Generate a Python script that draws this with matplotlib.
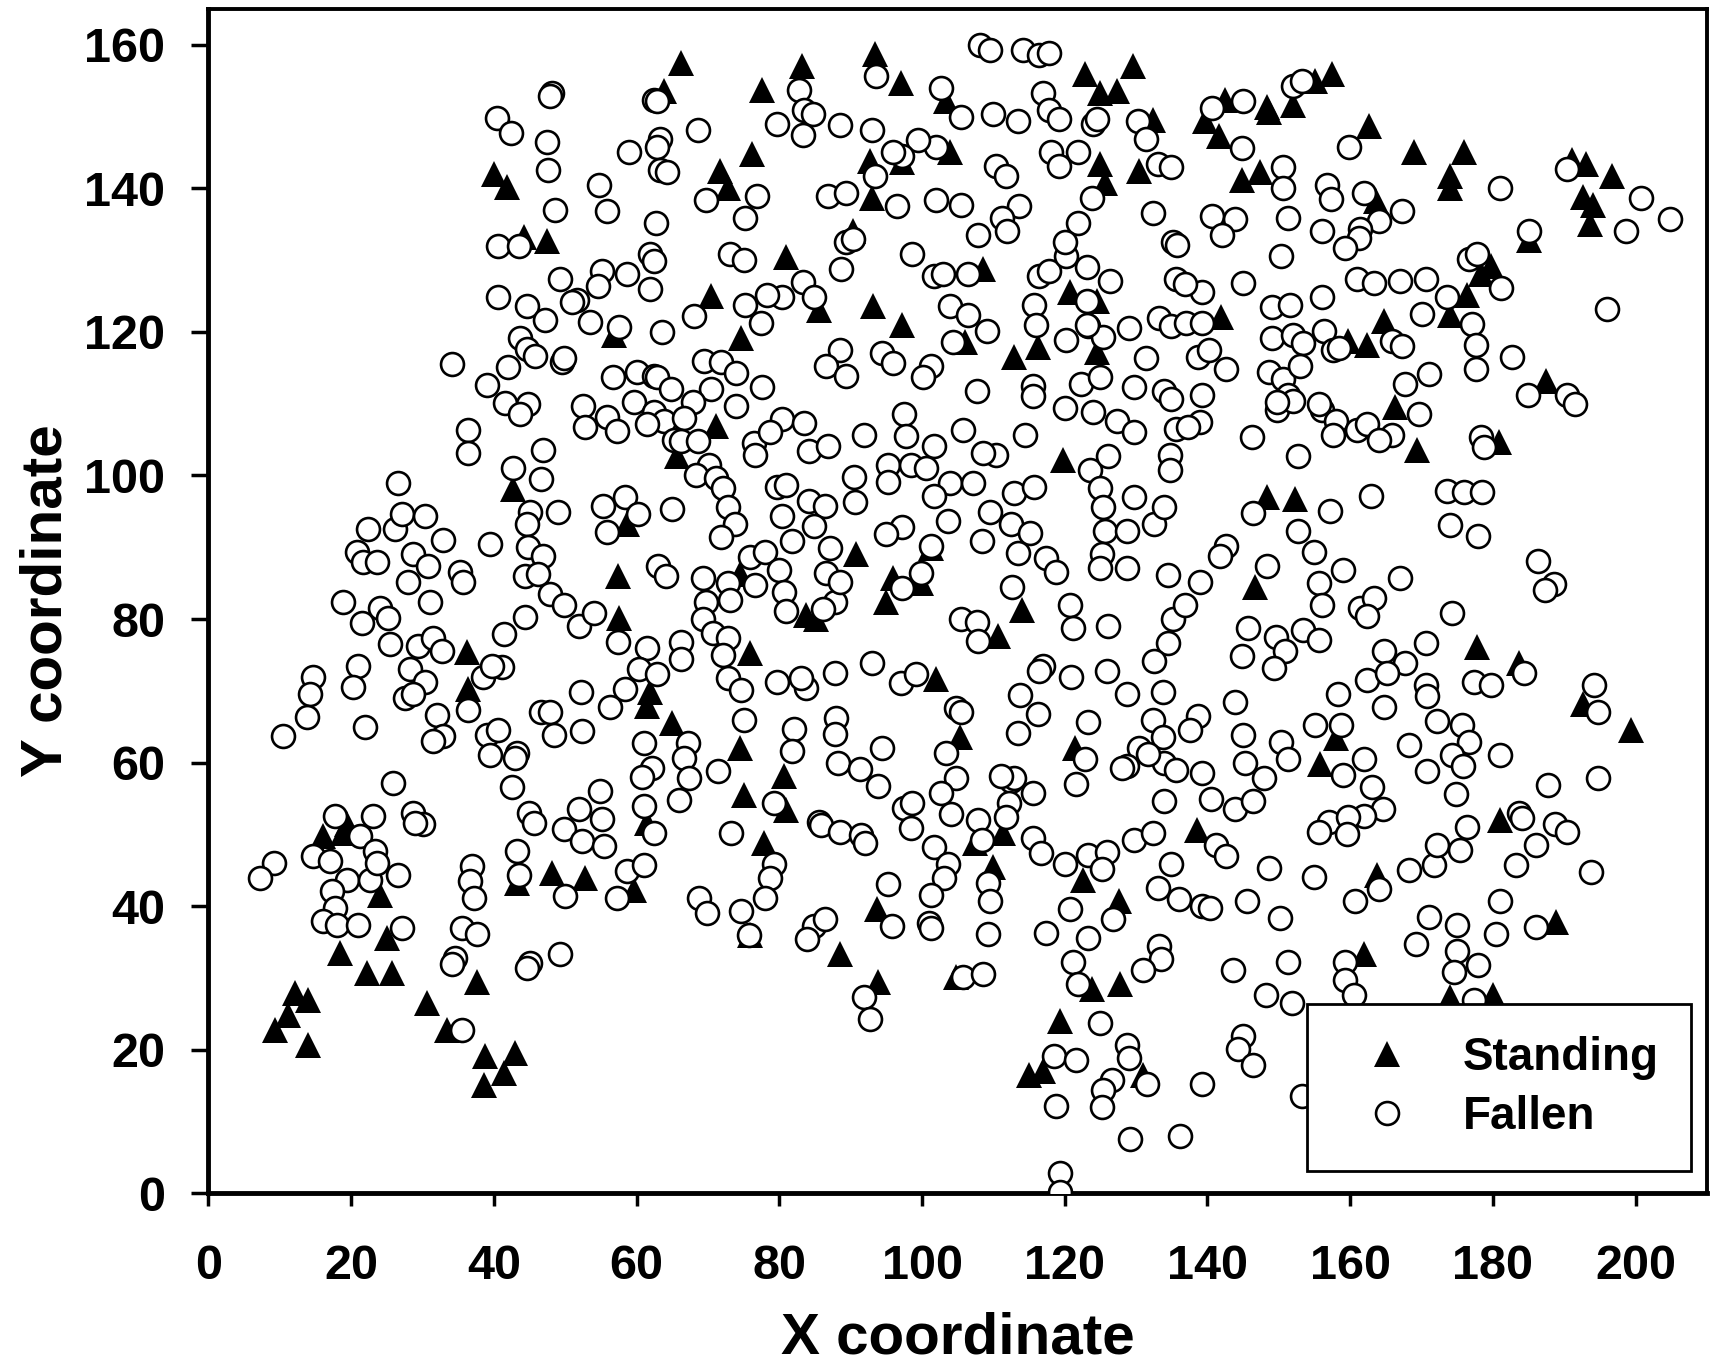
import matplotlib
matplotlib.use("Agg")
import matplotlib.pyplot as plt
from matplotlib.lines import Line2D

plt.rcParams['font.family'] = ['Liberation Sans', 'DejaVu Sans']
plt.rcParams['font.weight'] = 'bold'

# standing trees (x, y)
standing = [
    (40, 142), (41.9, 140.2), (44.2, 133.2), (47.4, 132.6),
    (66.2, 157.5), (63.8, 153.5), (83.2, 157), (77.6, 153.7), (93.4, 158.7), (97, 154.7),
    (103.4, 152.1), (122.8, 155.9), (125, 153.3), (127.3, 153.5), (129.5, 157), (132.3, 149.5),
    (125, 143.4), (125.6, 140.8), (130.4, 142.4), (103.9, 145), (97.2, 143.6), (92.7, 143.8),
    (93, 138.7), (90.3, 134), (108.6, 128.8), (106, 118.6), (93.2, 123.6), (97.2, 121),
    (80.9, 130.4), (85.6, 123.1), (70.5, 125), (74.7, 119.1), (76.2, 144.8), (71.7, 142.4),
    (72.8, 140.1), (112.9, 116.5), (116.2, 117.9), (120.7, 125.5), (124.5, 124.3), (124.5, 117.2),
    (142.4, 152.3), (139.7, 149.4), (148.4, 151.3), (148.6, 150.6), (152, 151.6), (155.1, 154.9),
    (157.5, 155.9), (141.6, 147.3), (144.8, 141.2), (147.4, 142.2), (162.6, 148.7), (163.6, 138.2),
    (168.9, 145.1), (175.9, 145.1), (174, 141.7), (174, 140), (185.1, 132.8), (191.1, 143.9),
    (193.1, 143.4), (196.7, 141.7), (192.6, 138.8), (194, 137.6), (193.6, 135), (178.4, 128),
    (179.8, 129.2), (176.4, 125.2), (174, 122.3), (141.9, 122), (159.7, 118.7), (162.4, 118.2),
    (164.8, 121.5), (187.5, 113.2), (166.3, 109.5), (56.9, 119.5),
    (65.7, 102.7), (71.2, 106.9), (42.7, 98.1), (58.6, 93.2), (57.4, 86), (57.6, 80.2),
    (36.3, 75.4), (36.4, 70.2), (61.9, 69.8), (61.4, 67.9), (65, 65.5), (74.5, 86.3),
    (90.8, 89), (101.3, 89.9), (96, 85.7), (95, 82.4), (99.8, 85), (83.7, 80.5), (85.1, 80),
    (119.7, 102.2), (75.9, 75.3), (74.5, 62.1), (80.6, 58.1), (75, 55.5), (80.9, 53.4),
    (102, 71.6), (105.3, 63.6), (110.7, 77.7), (114, 81.2), (121.4, 62.1), (148.4, 97),
    (152.3, 96.7), (146.7, 84.5), (169.4, 103.5), (180.8, 104.7), (177.8, 76.1), (183.6, 73.9),
    (192.6, 68.2), (199.3, 64.6), (158, 63.4), (155.8, 59.8),
    (19.4, 51.4), (16.1, 49.8), (18.9, 50.2), (24.1, 41.5), (25, 35.6), (18.4, 33.5),
    (22.2, 30.7), (25.7, 30.7), (12.1, 27.9), (14, 27), (11.2, 24.9), (9.3, 22.8), (14, 20.7),
    (30.6, 26.5), (33.4, 22.8), (38.8, 19.1), (43, 19.6), (41.4, 16.8), (38.6, 15.1),
    (37.6, 29.5), (43.2, 43.3), (48.1, 44.7), (52.8, 44), (59.6, 42.3), (61.5, 51.6),
    (77.8, 48.8), (75.9, 36), (111.4, 50.2), (107.4, 48.8), (93.7, 39.6), (88.5, 33.4),
    (93.9, 29.4), (110, 45.4), (104.8, 30.1), (122.6, 43.6), (127.6, 40.7), (123.8, 28.5),
    (127.8, 29.2), (119.3, 24), (115, 16.5), (117, 17), (131, 16.5), (138.5, 50.6),
    (163.8, 44.3), (161.9, 33.4), (174, 27.3), (180, 27.7), (188.9, 37.8), (181, 52),
]

# fallen trees (x, y)
fallen = [
    # upper left
    (48.2, 153.2), (47.9, 152.8), (40.5, 149.8), (42.4, 147.7), (47.4, 146.5), (47.6, 142.6),
    (58.9, 145), (54.7, 140.4), (55.8, 136.9), (48.5, 137), (62.4, 152.3), (63.3, 146.9),
    (62.9, 145.8), (63.3, 142.5), (62.7, 135.1), (40.6, 132), (43.5, 132), (49.3, 127.4),
    (51.7, 124.4), (50.9, 124.2), (55.1, 128.5), (58.7, 128.1), (54.6, 126.4), (61.9, 130.9),
    (62.4, 129.8), (61.9, 126), (40.6, 124.9), (44.7, 123.6), (47.1, 121.6), (53.5, 121.4),
    (43.6, 119.2), (44.7, 117.6), (45.8, 116.7), (49.6, 115.8), (49.8, 116.3), (34.2, 115.5),
    (42, 115.1), (39.1, 112.6), (57.6, 120.7), (56.7, 113.7), (60.1, 114.4), (62.4, 113.9),
    (59.6, 110.2), (41.6, 110.1), (44.8, 110), (52.5, 109.7), (55.9, 108.1), (62.4, 108.9),
    # upper middle
    (108.1, 159.9), (109.5, 159.3), (114.1, 159.2), (116.4, 158.6), (117.8, 158.9), (62.9, 152.1),
    (82.8, 153.7), (83.5, 150.9), (84.7, 150.4), (83.3, 147.4), (79.7, 149), (88.5, 148.8),
    (93, 148.1), (93.6, 155.6), (102.7, 154), (105.4, 149.9), (110, 150.4), (113.4, 149.3),
    (116.9, 153.3), (117.8, 150.9), (119.2, 149.7), (124, 149), (124.5, 149.7), (130.2, 149.3),
    (131.4, 146.9), (123.8, 138.7), (133, 143.4), (132.3, 136.5), (118.1, 145), (119.2, 143.1),
    (121.9, 145), (110.3, 143.1), (111.7, 141.7), (113.6, 137.5), (111.2, 135.8), (111.9, 134),
    (107.9, 133.5), (102, 138.4), (105.5, 137.7), (102, 145.7), (99.4, 146.7), (97.2, 144.5),
    (96, 145), (93.4, 141.7), (86.8, 138.9), (89.4, 139.4), (96.5, 137.5), (98.6, 130.9),
    (89.4, 132.5), (90.3, 133), (88.7, 128.8), (101.7, 127.8), (102.9, 128.1), (106.5, 128.1),
    (103.9, 123.6), (106.5, 122.4), (109.1, 120.1), (104.3, 118.6), (83.3, 126.9), (84.9, 124.8),
    (80.4, 124.8), (78.3, 125.2), (75.2, 123.8), (77.4, 121.2), (68.1, 122.2), (69.5, 116),
    (71.9, 115.8), (74, 114.2), (70.5, 112), (67.9, 110.2), (63.6, 120), (62.9, 113.7),
    (64.8, 112), (77.6, 112.3), (74, 109.7), (88.5, 117.5), (86.6, 115.3), (89.4, 113.9),
    (94.4, 117), (96, 115.6), (101.2, 115.3), (100.1, 113.7), (107.7, 111.8), (115.5, 112.5),
    (115.5, 111), (120, 109.4), (115.7, 123.8), (116, 121), (120.2, 118.9), (123.3, 120.8),
    (125.4, 119.3), (129, 120.5), (123.1, 124.3), (123.1, 121), (116.4, 127.8), (117.8, 128.5),
    (126.4, 127.1), (120.2, 130.6), (121.9, 135.1), (120, 132.5), (123.1, 129), (133.2, 121.9),
    (131.4, 116.3), (129.7, 112.3), (133.9, 111.8), (135.1, 132.5), (135.6, 127.4), (122.3, 112.8),
    (125, 113.7), (124, 108.9), (127.3, 107.6), (97.5, 108.5), (80.4, 107.8), (83.5, 107.3),
    (63.8, 107.6), (66.7, 108), (68.6, 148.1), (69.7, 138.4), (76.9, 138.9), (75.2, 135.8),
    (73.1, 130.9), (75, 130), (64.3, 142.2),
    # upper right
    (140.7, 151.2), (145, 152.1), (152, 154.2), (153.2, 154.9), (144.8, 145.6), (150.6, 142.9),
    (150.6, 140), (151.3, 135.9), (156.8, 140.4), (157.3, 138.5), (161.9, 139.3), (167.2, 136.9),
    (164.1, 135.5), (159.9, 145.8), (181, 140.1), (185.1, 134.1), (190.4, 142.7), (200.8, 138.6),
    (198.6, 134), (204.8, 135.7), (140.7, 136.2), (143.8, 135.7), (142, 133.5), (135.8, 132.1),
    (150.3, 130.6), (156.1, 134), (161.4, 134.3), (161.2, 133.1), (159.3, 131.7), (145, 126.8),
    (139.2, 125.6), (136.8, 126.6), (161, 127.3), (163.4, 126.8), (167, 127.1), (170.6, 127.3),
    (173.5, 124.9), (176.7, 130.2), (177.7, 130.9), (181.2, 126.1), (170.1, 122.5), (177.1, 121.1),
    (177.6, 118.2), (177.6, 114.8), (182.7, 116.5), (196, 123.2), (184.9, 111.2), (190.4, 111.2),
    (191.5, 110), (134.9, 142.9), (134.9, 120.8), (137, 121.3), (139.2, 121.3), (138.7, 116.5),
    (140.2, 117.5), (142.6, 114.8), (139.2, 111.2), (139, 107.4), (149.1, 123.5), (151.5, 123.7),
    (156.1, 124.9), (149.1, 119.2), (152, 119.6), (153.4, 118.4), (156.3, 120.1), (157.6, 117.5),
    (158.5, 117.7), (165.8, 118.7), (167.2, 118), (148.6, 114.4), (150.6, 113.4), (153, 115.3),
    (151.3, 111.2), (149.8, 109.1), (152, 110.3), (156.1, 109.1), (158, 107.6), (161, 106.4),
    (167.7, 112.7), (171.1, 114.1), (169.6, 108.6), (165.8, 105.7), (134.9, 110.7), (135.6, 106.5),
    # middle left
    (36.4, 106.3), (36.4, 103.1), (26.6, 98.9), (42.7, 101), (46.9, 103.5), (46.6, 99.5),
    (45.1, 94.9), (44.7, 93.2), (49, 94.9), (44.8, 90), (46.9, 88.8), (44.4, 86), (46.2, 86.3),
    (47.9, 83.5), (49.9, 81.9), (51.9, 79.1), (54.1, 80.9), (55.3, 95.7), (58.4, 97), (60.2, 94.6),
    (55.9, 92.1), (63, 87.4), (64.1, 86), (57.4, 76.8), (61.5, 76), (60.4, 73), (62.8, 72.4),
    (58.4, 70.2), (56.3, 67.7), (61, 62.8), (62.2, 59.3), (60.8, 58), (65.2, 105), (65, 95.3),
    (66.2, 76.8), (66.2, 74.4), (22.4, 92.5), (26.2, 92.5), (27.1, 94.6), (30.4, 94.4), (32.9, 91),
    (20.8, 89.4), (21.7, 87.9), (23.6, 87.9), (28.7, 89), (30.8, 87.4), (28, 85.1), (35.3, 86.5),
    (35.7, 85.1), (39.5, 90.4), (18.9, 82.4), (21.5, 79.4), (24.1, 81.6), (25.2, 80.2), (25.4, 76.5),
    (31.1, 82.4), (29.4, 76.3), (31.5, 77.4), (32.8, 75.5), (28.3, 73), (30.4, 71.3), (27.5, 69),
    (28.7, 69.5), (32.1, 66.7), (32.9, 63.7), (31.5, 63), (36.4, 67.4), (38.5, 72), (41.2, 73.3),
    (39.8, 73.4), (41.4, 77.9), (44.4, 80.3), (14.6, 71.9), (14.3, 69.5), (13.8, 66.3), (10.4, 63.7),
    (21, 73.4), (20.3, 70.6), (22, 64.9), (46.6, 67), (47.9, 67), (48.4, 63.9), (52.4, 64.4),
    (52.2, 69.9), (39.1, 63.9), (40.6, 64.6), (39.5, 61), (43.3, 61.4), (43, 60.7), (42.6, 56.6),
    (54.9, 56), (25.8, 57.2), (43.7, 108.6), (52.8, 106.7), (57.3, 106.2), (61.5, 107.2),
    # middle
    (66.2, 104.8), (68.6, 104.8), (70.2, 101.5), (68.3, 100), (71.2, 99.6), (72.1, 98.2),
    (72.8, 95.6), (73.8, 93.2), (71.9, 91.4), (69.3, 85.7), (72.8, 85), (73.1, 82.6), (69.7, 82.4),
    (69.3, 80), (70.7, 78.1), (72.8, 77.4), (72.1, 75), (72.8, 71.8), (74.7, 70.1), (75.9, 88.7),
    (78, 89.4), (76.6, 84.7), (79.9, 86.9), (80.6, 83.8), (76.4, 104.5), (78.7, 106), (84.2, 103.4),
    (86.8, 104.1), (76.6, 102.9), (91.8, 105.7), (79.7, 98.4), (80.9, 98.7), (84.2, 96.5),
    (86.4, 95.8), (80.4, 94.4), (81.8, 90.9), (84.9, 93), (87.1, 89.9), (90.4, 99.8), (90.6, 96.3),
    (86.6, 86.4), (87.8, 82.4), (88.5, 85.2), (80.9, 81.1), (86.1, 81.4), (97.7, 105.5),
    (101.7, 104.1), (105.8, 106.4), (114.5, 105.7), (110.3, 102.9), (108.6, 103.1), (95.3, 101.5),
    (95.3, 99.1), (98.4, 101.5), (100.5, 101), (103.9, 98.9), (101.7, 97.2), (107.2, 98.9),
    (103.6, 93.7), (112.9, 97.5), (115.7, 98.4), (109.5, 94.9), (112.4, 93.2), (115.2, 92),
    (108.4, 90.9), (113.4, 89.2), (117.4, 88.5), (118.8, 86.6), (97.2, 92.8), (95, 91.8),
    (101.2, 90.2), (99.8, 86.4), (112.6, 84.5), (97.2, 84.3), (123.5, 100.8), (126.1, 102.7),
    (124.9, 98.2), (125.4, 95.6), (125.7, 92.3), (125.2, 89), (124.9, 87.1), (128.7, 87.1),
    (129.7, 97), (128.7, 92.3), (132.5, 93.2), (133.9, 95.6), (134.7, 102.9), (134.7, 100.8),
    (129.7, 106), (120.7, 81.9), (121.2, 78.8), (126.1, 79.1), (134.4, 86.2), (135.1, 80),
    (134.4, 76.7), (132.5, 74.1), (133.7, 69.9), (132.3, 65.9), (133.7, 63.6), (130.4, 62.1),
    (128.7, 59.5), (133.9, 60), (133.9, 54.6), (125.9, 72.7), (120.9, 72), (128.7, 69.5),
    (116.9, 73.4), (116.4, 72.7), (113.8, 69.4), (116.2, 66.8), (113.4, 64.2), (122.8, 60.5),
    (121.6, 57), (123.3, 65.7), (112.4, 57.4), (115.5, 55.8), (112.2, 54.4), (112.9, 57.9),
    (111, 58.1), (104.8, 67.6), (105.5, 67.1), (103.4, 61.4), (104.8, 57.9), (102.7, 55.8),
    (104.1, 52.9), (107.9, 52), (111.7, 52.5), (105.5, 80), (107.7, 79.6), (107.9, 77), (97, 71.1),
    (99.1, 72.3), (93, 73.9), (87.8, 72.5), (83.7, 70.4), (83, 71.8), (79.7, 71.3), (75, 65.9),
    (82.1, 64.7), (81.8, 61.6), (88, 66.2), (87.8, 64), (67.2, 62.8), (66.7, 60.7), (67.4, 57.9),
    (66, 54.8), (71.4, 58.8), (94.4, 62.1), (88.2, 60), (91.3, 59.1), (93.9, 56.7), (97.5, 53.7),
    (98.6, 54.4), (79.2, 54.4), (85.6, 51.8), (128, 59.3), (131.7, 61.2),
    # middle right
    (137.3, 106.8), (146.2, 105.4), (149.8, 110.2), (155.6, 109.9), (162.4, 107.1), (157.6, 105.6),
    (164.1, 104.9), (178.3, 105.4), (178.8, 103.9), (152.7, 102.7), (146.4, 94.8), (157.2, 95),
    (162.9, 97.2), (173.5, 97.9), (175.9, 97.7), (178.5, 97.7), (174, 93.1), (177.9, 91.6),
    (152.7, 92.2), (154.9, 89.3), (159, 86.9), (155.6, 85), (156.1, 81.9), (167, 85.7),
    (142.6, 90.2), (141.8, 88.8), (148.4, 87.4), (139, 85.2), (136.8, 81.9), (161.4, 81.6),
    (163.4, 83), (162.4, 80.4), (174.2, 80.9), (186.3, 88.1), (188.5, 84.9), (187.3, 84),
    (145.7, 78.7), (144.8, 74.9), (149.6, 77.5), (150.8, 75.6), (153.4, 78.5), (155.6, 77.1),
    (149.3, 73.2), (164.8, 75.6), (167.7, 73.9), (170.6, 76.6), (162.4, 71.5), (165.1, 72.5),
    (164.8, 67.7), (158.3, 69.6), (170.6, 70.8), (170.8, 69.3), (177.3, 71.3), (179.7, 70.8),
    (184.4, 72.5), (194.2, 70.8), (194.7, 67), (143.8, 68.4), (138.7, 66.5), (137.5, 64.6),
    (145, 63.8), (150.3, 62.9), (151.3, 60.5), (145.2, 60), (147.9, 57.8), (139.2, 58.6),
    (135.6, 59), (140.5, 55), (143.8, 53.5), (146.4, 54.7), (155.1, 65.3), (158.7, 65.3),
    (161.9, 60.5), (159, 58.3), (163.1, 56.6), (164.6, 53.5), (161.9, 52.6), (157.1, 51.8),
    (168.3, 62.4), (172.2, 65.8), (175.6, 65.3), (176.6, 62.9), (174.2, 61), (175.8, 59.5),
    (170.7, 58.8), (174.8, 55.7), (181, 61), (187.7, 56.9), (194.7, 57.8), (183.6, 53), (184.1, 52.3),
    # lower left
    (9.2, 46), (7.2, 44), (17.8, 52.6), (23.1, 52.6), (28.7, 53), (30.1, 51.4), (29, 51.6),
    (21.3, 49.8), (23.4, 47.7), (14.7, 47), (17.1, 46.3), (19.4, 43.7), (22.7, 43.7), (26.6, 44.4),
    (17.3, 42.1), (17.7, 39.8), (16.1, 37.9), (18, 37.4), (21, 37.4), (23.6, 46), (27.1, 37),
    (35.5, 22.8), (36.9, 45.6), (36.7, 43.5), (37.2, 41.2), (35.5, 37), (37.6, 36.1), (34.6, 32.8),
    (34.1, 31.9), (43.2, 47.7), (43.5, 44.4), (44.9, 53), (45.6, 51.6), (50, 41.4), (49.8, 50.7),
    (51.9, 53.5), (52.4, 49.1), (55.2, 52.1), (55.4, 48.4), (61, 54), (62.4, 50.2), (58.7, 44.9),
    (61, 45.8), (57.3, 41.2), (45.1, 32.1), (44.6, 31.4), (49.3, 33.3),
    # lower middle
    (79.2, 45.9), (78.7, 44), (78, 41.2), (74.7, 39.3), (75.7, 36), (68.8, 41.2), (69.9, 39.1),
    (73.3, 50.2), (85.9, 51.3), (88.5, 50.3), (91.5, 49.9), (92, 48.8), (98.4, 50.9), (108.4, 49.2),
    (101.7, 48.3), (103.6, 45.9), (103.1, 44), (101.2, 41.5), (101, 37.7), (101.2, 37), (95.3, 43.1),
    (95.8, 37.2), (84.9, 37.2), (86.4, 38.2), (83.9, 35.5), (91.8, 27.3), (92.7, 24.3), (109.3, 43.3),
    (109.5, 40.7), (109.3, 36.2), (105.8, 30.1), (108.6, 30.6), (115.5, 49.5), (116.7, 47.4),
    (120, 45.9), (123.3, 47.1), (125.9, 47.5), (125.2, 45.2), (129.7, 49.2), (132.3, 50.2),
    (120.7, 39.6), (117.4, 36.3), (123.3, 35.6), (126.8, 38.2), (121.2, 32.3), (121.9, 29.2),
    (125, 23.7), (118.5, 19.1), (121.6, 18.6), (128.7, 20.7), (129, 18.8), (126.6, 15.8),
    (125.4, 14.4), (131.5, 15.3), (125.2, 12), (118.8, 12.2), (129.2, 7.6), (136.1, 8), (119.3, 2.8),
    (119.3, 0.2), (133.2, 34.4), (133.5, 32.7), (130.9, 31.1), (133, 42.6), (134.9, 45.9),
    # lower right
    (141.2, 48.6), (142.6, 47), (136, 41), (139.2, 40), (140.4, 39.7), (148.6, 45.3), (154.9, 44.1),
    (145.5, 40.8), (150.1, 38.4), (159.7, 52.5), (155.6, 50.3), (159.5, 50.1), (164.1, 42.4),
    (160.7, 40.8), (168.2, 45), (171.8, 45.8), (172.1, 48.6), (175.4, 47.9), (176.4, 51),
    (186.1, 48.6), (188.7, 51.5), (190.4, 50.3), (183.2, 45.8), (193.8, 44.8), (181, 40.7),
    (180.5, 36.1), (186.1, 37.1), (171.1, 38.5), (169.2, 34.7), (175, 37.4), (175, 33.8),
    (177.9, 31.8), (174.5, 30.9), (177.3, 27), (159.3, 32.3), (159.3, 29.7), (160.5, 27.7),
    (143.6, 31.1), (151.3, 32.3), (148.2, 27.7), (151.8, 26.5), (145, 22), (144.3, 20.1),
    (146.4, 17.9), (139.2, 15.3), (153.2, 13.6),
]

x_ticks = [0, 20, 40, 60, 80, 100, 120, 140, 160, 180, 200]
y_ticks = [0, 20, 40, 60, 80, 100, 120, 140, 160]

fig = plt.figure(figsize=(17.18, 13.66), dpi=100)
ax = fig.add_axes([0.1213, 0.1263, 0.8723, 0.8673])

sx = [p[0] for p in standing]
sy = [p[1] for p in standing]
fx = [p[0] for p in fallen]
fy = [p[1] for p in fallen]

ax.plot(sx, sy, linestyle='', marker='^', markersize=19, color='black',
        markeredgewidth=0, label='Standing', zorder=2)
ax.plot(fx, fy, linestyle='', marker='o', markersize=16.5, markerfacecolor='white',
        markeredgecolor='black', markeredgewidth=1.9, label='Fallen', zorder=3)

ax.set_xlim(0, 210)
ax.set_ylim(0, 165)
ax.set_xticks(x_ticks)
ax.set_yticks(y_ticks)
ax.tick_params(axis='both', direction='out', width=2.5, labelsize=35)
ax.tick_params(axis='x', length=9.5, pad=27)
ax.tick_params(axis='y', length=12, pad=19)
for lab in ax.get_xticklabels() + ax.get_yticklabels():
    lab.set_fontweight('bold')

for side in ['left', 'bottom']:
    ax.spines[side].set_linewidth(3.5)
for side in ['top', 'right']:
    ax.spines[side].set_linewidth(2.8)

ax.set_xlabel('X coordinate', fontsize=42, fontweight='bold', labelpad=16)
ax.set_ylabel('Y coordinate', fontsize=42, fontweight='bold', labelpad=8)

handles = [
    Line2D([], [], linestyle='', marker='^', markersize=19, color='black', markeredgewidth=0),
    Line2D([], [], linestyle='', marker='o', markersize=16.5, markerfacecolor='white',
           markeredgecolor='black', markeredgewidth=1.9),
]
leg = ax.legend(handles, ['Standing', 'Fallen'], loc='lower right',
                bbox_to_anchor=(0.989, 0.019), fontsize=33, frameon=True, fancybox=False,
                edgecolor='black', borderpad=0.7, labelspacing=0.33, handletextpad=0.6,
                handlelength=2.1, borderaxespad=0)
leg.get_frame().set_linewidth(2)
leg.get_frame().set_alpha(1)
leg.set_zorder(5)
for t in leg.get_texts():
    t.set_fontweight('bold')

fig.savefig('out.png', dpi=100)
